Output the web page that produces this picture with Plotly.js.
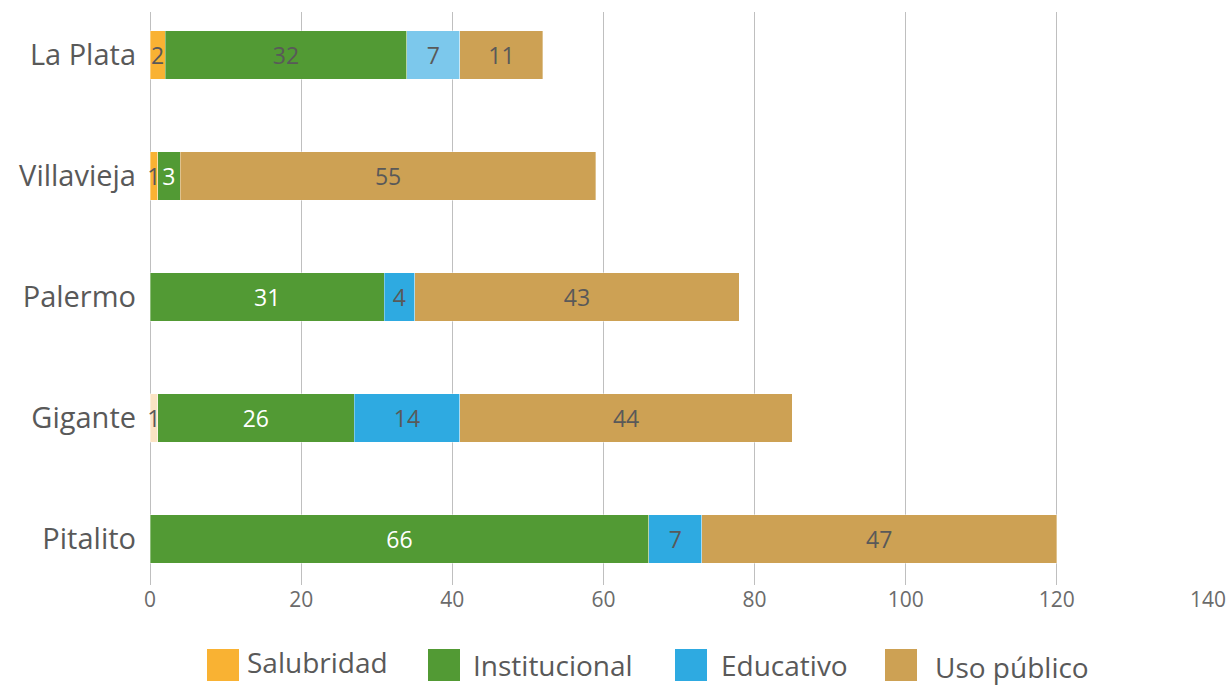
<!DOCTYPE html>
<html>
<head>
<meta charset="utf-8">
<script src="https://cdn.plot.ly/plotly-3.0.1.min.js"></script>
<style>html,body{margin:0;padding:0;background:#fff;}#chart{width:1231px;height:686px;}</style>
</head>
<body>
<div id="chart"></div>
<script>
// Data (top-to-bottom order)
const categories = ['La Plata', 'Villavieja', 'Palermo', 'Gigante', 'Pitalito'];
const seriesNames = ['Salubridad', 'Institucional', 'Educativo', 'Uso público'];
const salubridad = [2, 1, null, 1, null];
const institucional = [32, 3, 31, 26, 66];
const educativo = [7, null, 4, 14, 7];
const usoPublico = [11, 55, 43, 44, 47];
const xTicks = [0, 20, 40, 60, 80, 100, 120, 140];

// Styles
const baseColors = ['#F9B233', '#529A34', '#2EAAE1', '#CDA154'];
const salColors = ['#F9B233', '#F9B233', '#F9B233', '#FBE3C3', '#F9B233'];
const eduColors = ['#7CC8EC', '#2EAAE1', '#2EAAE1', '#2EAAE1', '#2EAAE1'];
const gray = '#595959';
const instTextColors = [gray, '#ffffff', '#ffffff', '#ffffff', '#ffffff'];
const FONT = 'Open Sans, Lato, sans-serif';

function mk(name, vals, colors, textColors) {
  return {
    type: 'bar', orientation: 'h', name: name,
    y: categories, x: vals,
    text: vals.map(v => v == null ? '' : String(v)),
    textposition: 'inside', insidetextanchor: 'middle', textangle: 0,
    insidetextfont: {family: FONT, size: 23, color: textColors},
    marker: {color: colors, line: {color: 'rgba(255,255,255,0.35)', width: 1}},
    hoverinfo: 'x+y+name', cliponaxis: false, showlegend: false
  };
}

const data = [
  mk(seriesNames[0], salubridad, salColors, gray),
  mk(seriesNames[1], institucional, baseColors[1], instTextColors),
  mk(seriesNames[2], educativo, eduColors, gray),
  mk(seriesNames[3], usoPublico, baseColors[3], gray)
];

// Custom legend (large square swatches)
const legendX = [207, 428, 675, 885];
const legendTextX = [245, 471, 719, 933];
const legendTextDy = [-3, 0, 0, 2];
const shapes = [], annotations = [];
seriesNames.forEach((n, i) => {
  shapes.push({type: 'rect', xref: 'paper', yref: 'paper',
    x0: (legendX[i] - 150) / 1058, x1: (legendX[i] + 32 - 150) / 1058,
    y0: (585 - 681) / 573, y1: (585 - 649) / 573,
    fillcolor: baseColors[i], line: {width: 0}});
  annotations.push({xref: 'paper', yref: 'paper', showarrow: false,
    x: (legendTextX[i] - 150) / 1058, xanchor: 'left',
    y: (585 - (665 + legendTextDy[i])) / 573, yanchor: 'middle',
    text: n, font: {family: FONT, size: 28, color: gray}});
});

const layout = {
  width: 1231, height: 686,
  margin: {l: 150, r: 23, t: 12, b: 101},
  paper_bgcolor: '#ffffff', plot_bgcolor: '#ffffff',
  barmode: 'stack', bargap: 0.6,
  font: {family: FONT, color: gray},
  uniformtext: {mode: 'show', minsize: 23},
  xaxis: {range: [0, 140], tickvals: xTicks, ticktext: xTicks.map(String),
    showgrid: true, gridcolor: '#BFBFBF', gridwidth: 1, zeroline: true,
    zerolinecolor: '#BFBFBF', zerolinewidth: 1, showline: false, ticks: '',
    tickfont: {family: FONT, size: 21, color: '#6b6b6b'}, fixedrange: true},
  yaxis: {type: 'category', categoryorder: 'array', categoryarray: categories,
    range: [4.38, -0.355], showgrid: false, zeroline: false, showline: false,
    ticks: '', ticklabelstandoff: 13,
    tickfont: {family: FONT, size: 29, color: gray}, fixedrange: true},
  shapes: shapes, annotations: annotations, showlegend: false
};

Plotly.newPlot('chart', data, layout, {displayModeBar: false, staticPlot: true});
</script>
</body>
</html>
